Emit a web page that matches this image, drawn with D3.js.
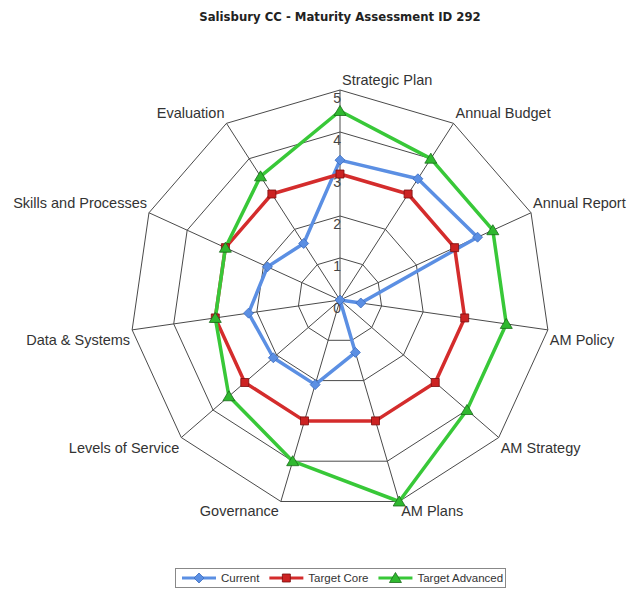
<!DOCTYPE html>

<head>
    <meta charset="utf-8">
    <script src="https://d3js.org/d3.v7.min.js"></script>
    <style>
        body { margin: 0; background: #fff; }
        text { font-family: "Liberation Sans", Arial, sans-serif; }
        text.title { font-family: "DejaVu Sans", Tahoma, sans-serif; }
    </style>
</head>

<body>
    <div id="chart"></div>
    <script>
        var title = "Salisbury CC - Maturity Assessment ID 292"
        var categories = ["Strategic Plan", "Annual Budget", "Annual Report", "AM Policy", "AM Strategy",
            "AM Plans", "Governance", "Levels of Service", "Data & Systems", "Skills and Processes", "Evaluation"]
        var ticks = [0, 1, 2, 3, 4, 5]
        var seriesNames = ["Current", "Target Core", "Target Advanced"]
        var current = [3.33, 3.43, 3.6, 0.5, 0, 1.3, 2.1, 2.1, 2.2, 1.9, 1.6]
        var targetCore = [3, 3, 3, 3, 3, 3, 3, 3, 3, 3, 3]
        var targetAdvanced = [4.5, 4, 4, 4, 4, 5, 4, 3.5, 3, 3, 3.5]

        var width = 628, height = 597
        var cx = 340, cy = 300, R = 210

        var colors = [
            { line: "#5b8fe3", fill: "#5b8fe3", edge: "#3b6cc0", shape: "diamond" },
            { line: "#d42c2c", fill: "#cc2222", edge: "#7a0e0e", shape: "square" },
            { line: "#38c838", fill: "#2fb82f", edge: "#196b19", shape: "triangle" }
        ]
        var series = [current, targetCore, targetAdvanced]

        var svg = d3.select("#chart").append("svg")
            .attr("width", width)
            .attr("height", height)

        var r = d3.scaleLinear().domain([0, 5]).range([0, R])
        var angle = function(i) { return i * 2 * Math.PI / categories.length }
        var px = function(i, v) { return cx + r(v) * Math.sin(angle(i)) }
        var py = function(i, v) { return cy - r(v) * Math.cos(angle(i)) }

        function markerPath(shape) {
            if (shape == "diamond") return "M0,-5L5,0L0,5L-5,0Z"
            if (shape == "square") return "M-4,-4L4,-4L4,4L-4,4Z"
            return "M0,-5.5L6,4.5L-6,4.5Z"
        }

        // title
        svg.append("text")
            .attr("class", "title")
            .attr("x", cx)
            .attr("y", 21)
            .attr("text-anchor", "middle")
            .attr("font-size", "11.7px")
            .attr("font-weight", "bold")
            .attr("fill", "#222")
            .text(title)

        // grid
        var g = svg.append("g").attr("transform", "translate(" + cx + "," + cy + ")")
        var ring = d3.lineRadial()
            .angle(function(d, i) { return angle(i) })
            .radius(function(d) { return r(d) })
            .curve(d3.curveLinearClosed)

        ticks.slice(1).forEach(function(t) {
            g.append("path")
                .attr("d", ring(categories.map(function() { return t })))
                .attr("fill", "none")
                .attr("stroke", "#4a4a4a")
                .attr("stroke-width", 1)
        })
        g.selectAll(".spoke").data(categories).enter().append("line")
            .attr("x1", 0).attr("y1", 0)
            .attr("x2", function(d, i) { return px(i, 5) - cx })
            .attr("y2", function(d, i) { return py(i, 5) - cy })
            .attr("stroke", "#4a4a4a")
            .attr("stroke-width", 1)

        // tick labels along first axis
        svg.selectAll(".tick").data(ticks).enter().append("text")
            .attr("x", cx + 1)
            .attr("y", function(d) { return cy - r(d) + 12.5 })
            .attr("text-anchor", "end")
            .attr("font-size", "14px")
            .attr("fill", "#444")
            .text(function(d) { return d })

        // category labels
        svg.selectAll(".cat").data(categories).enter().append("text")
            .attr("x", function(d, i) {
                var x = px(i, 5)
                return x >= cx - 1 ? x + 2 : x - 2
            })
            .attr("y", function(d, i) {
                var y = py(i, 5)
                return y < cy ? y - 5 : y + 15
            })
            .attr("text-anchor", function(d, i) { return px(i, 5) >= cx - 1 ? "start" : "end" })
            .attr("font-size", "14.5px")
            .attr("fill", "#333")
            .text(function(d) { return d })

        // series
        series.forEach(function(vals, k) {
            var c = colors[k]
            g.append("path")
                .attr("d", ring(vals))
                .attr("fill", "none")
                .attr("stroke", c.line)
                .attr("stroke-width", 3.5)
                .attr("stroke-linejoin", "round")
            svg.selectAll(".m" + k).data(vals).enter().append("path")
                .attr("transform", function(d, i) { return "translate(" + px(i, d) + "," + py(i, d) + ")" })
                .attr("d", markerPath(c.shape))
                .attr("fill", c.fill)
                .attr("stroke", c.edge)
                .attr("stroke-width", 0.8)
        })

        // legend
        var legend = svg.append("g")
        legend.append("rect")
            .attr("x", 175.5).attr("y", 568.5)
            .attr("width", 330).attr("height", 19)
            .attr("fill", "#fff")
            .attr("stroke", "#888")
        var lx = 182, ly = 578
        seriesNames.forEach(function(name, k) {
            var c = colors[k]
            legend.append("line")
                .attr("x1", lx).attr("x2", lx + 34)
                .attr("y1", ly).attr("y2", ly)
                .attr("stroke", c.line)
                .attr("stroke-width", 3)
            legend.append("path")
                .attr("transform", "translate(" + (lx + 17) + "," + ly + ")")
                .attr("d", markerPath(c.shape))
                .attr("fill", c.fill)
                .attr("stroke", c.edge)
                .attr("stroke-width", 0.8)
            var t = legend.append("text")
                .attr("x", lx + 39)
                .attr("y", ly + 4)
                .attr("font-size", "11.5px")
                .attr("fill", "#333")
                .text(name)
            lx = lx + 39 + t.node().getComputedTextLength() + 10
        })
    </script>
</body>

</html>
